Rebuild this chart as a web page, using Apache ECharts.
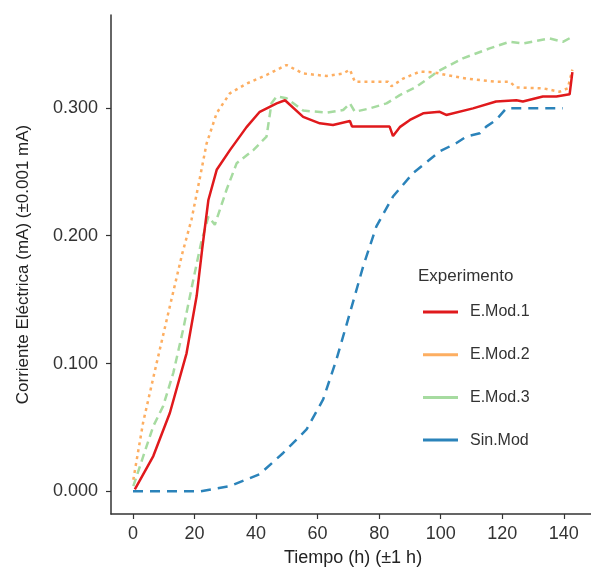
<!DOCTYPE html>
<html>
<head>
<meta charset="utf-8">
<script src="https://cdn.jsdelivr.net/npm/echarts@6/dist/echarts.min.js"></script>
<style>
html,body{margin:0;padding:0;background:#fff;}
#chart{width:591px;height:570px;}
</style>
</head>
<body>
<div id="chart"></div>
<script>
// ---- data ----
var seriesNames = ['E.Mod.1', 'E.Mod.2', 'E.Mod.3', 'Sin.Mod'];
var xTicks = [0, 20, 40, 60, 80, 100, 120, 140];
var yTicks = [0, 0.1, 0.2, 0.3];

var mod1Time  = [0.6, 6.6, 12, 17.4, 20.7, 22.5, 24.5, 27.2, 31.5, 36.9, 41.2, 46.7, 49.4, 55.3, 60.7, 65, 70.5, 71.2, 83.4, 84.5, 86.7, 90, 94.3, 99.7, 101.8, 110.5, 118, 124.6, 126.7, 133.2, 137.6, 141.9, 142.8];
var mod1Value = [0.0016, 0.0276, 0.0615, 0.108, 0.153, 0.19, 0.228, 0.2516, 0.267, 0.285, 0.297, 0.3036, 0.306, 0.293, 0.288, 0.2867, 0.2898, 0.2854, 0.2854, 0.278, 0.285, 0.2906, 0.2958, 0.297, 0.2945, 0.2997, 0.305, 0.306, 0.305, 0.309, 0.309, 0.3107, 0.328];

var mod2Time  = [0.1, 3.3, 7.7, 12, 16, 19, 21.8, 23.9, 27.2, 31.5, 36.9, 43.4, 47.7, 49.9, 55.3, 62.9, 68.3, 70.5, 72.1, 82.9, 84, 87.8, 93.2, 97.5, 101.8, 108.3, 118, 122.4, 124.6, 133.2, 138.6, 141.3, 142.8];
var mod2Value = [0.009, 0.054, 0.1005, 0.145, 0.186, 0.2125, 0.246, 0.272, 0.296, 0.3115, 0.319, 0.3258, 0.331, 0.3336, 0.327, 0.325, 0.327, 0.33, 0.3205, 0.3205, 0.317, 0.323, 0.3284, 0.328, 0.3258, 0.323, 0.3205, 0.3205, 0.316, 0.3154, 0.3127, 0.3154, 0.33];

var mod3Time  = [0.1, 2.3, 6.6, 9.8, 13.1, 16.3, 19.6, 22.1, 24.5, 26.6, 30.4, 33.7, 39.1, 43.4, 45, 46.7, 49.9, 55.3, 62.9, 68.3, 70.5, 72.1, 77, 82.4, 86.7, 92.1, 97.5, 98.6, 107.2, 115.9, 122.4, 126.7, 135.4, 139.7, 142.8];
var mod3Value = [0.004, 0.02, 0.051, 0.0667, 0.0927, 0.1266, 0.1656, 0.194, 0.215, 0.2086, 0.236, 0.2568, 0.267, 0.2776, 0.3036, 0.309, 0.3076, 0.298, 0.2963, 0.2984, 0.3036, 0.297, 0.2997, 0.3036, 0.31, 0.3166, 0.3258, 0.328, 0.3388, 0.3466, 0.3518, 0.3505, 0.3544, 0.3518, 0.3557];

var sinTime  = [0, 21.8, 31.5, 41.2, 48.8, 56.4, 61.8, 66.1, 70.5, 74.8, 79.1, 84.5, 91, 99.7, 105, 108.3, 112.7, 114.8, 118, 121.3, 139.7];
var sinValue = [0, 0, 0.004, 0.0135, 0.03, 0.0484, 0.0719, 0.103, 0.1396, 0.176, 0.2073, 0.2307, 0.249, 0.266, 0.2724, 0.2776, 0.2802, 0.2854, 0.2906, 0.2997, 0.2997];

// ---- build ----
function pairs(t, v) { return t.map(function (x, i) { return [x, v[i]]; }); }
var colors = ['#E0191C', '#FDAE61', '#A6DBA0', '#2B83BA'];
var dashes = ['solid', [3, 4], [8, 5], [10, 7]];
var dataSets = [pairs(mod1Time, mod1Value), pairs(mod2Time, mod2Value), pairs(mod3Time, mod3Value), pairs(sinTime, sinValue)];

var font = 'Liberation Sans, Arial, sans-serif';
var chart = echarts.init(document.getElementById('chart'), null, {renderer: 'canvas'});
var series = seriesNames.map(function (n, i) {
  return {
    name: n, type: 'line', data: dataSets[i], showSymbol: false, symbol: 'none',
    smooth: false, z: 10 - i,
    lineStyle: {color: colors[i], width: 2.5, type: dashes[i]},
    itemStyle: {color: colors[i]}
  };
});

chart.setOption({
  animation: false,
  backgroundColor: '#ffffff',
  title: {
    text: 'Experimento', left: 418, top: 268, padding: 0,
    textStyle: {fontFamily: font, fontSize: 17, fontWeight: 'normal', color: '#333'}
  },
  legend: {
    data: seriesNames.map(function (n, i) { return {name: n, icon: 'rect', itemStyle: {color: colors[i]}}; }),
    orient: 'vertical', left: 423, top: 304, padding: 0,
    itemWidth: 35, itemHeight: 3, itemGap: 26.7,
    textStyle: {fontFamily: font, fontSize: 16, color: '#333', padding: [0, 0, 0, 7]},
    selectedMode: false
  },
  grid: {left: 111, top: 15, right: -4, bottom: 56, containLabel: false, outerBoundsMode: 'none'},
  xAxis: {
    type: 'value', min: -7.15, max: 150.15,
    name: 'Tiempo (h) (±1 h)', nameLocation: 'middle', nameGap: 35,
    nameTextStyle: {fontFamily: font, fontSize: 18, color: '#222'},
    splitLine: {show: false},
    axisLine: {show: true, onZero: false, lineStyle: {color: '#333', width: 1.5}},
    axisTick: {show: true, customValues: xTicks, length: 5, lineStyle: {color: '#333', width: 1.2}},
    axisLabel: {customValues: xTicks, fontFamily: font, fontSize: 18, color: '#333', margin: 11}
  },
  yAxis: {
    type: 'value', min: -0.01775, max: 0.37275,
    name: 'Corriente Eléctrica (mA) (±0.001 mA)', nameLocation: 'middle', nameGap: 79,
    nameTextStyle: {fontFamily: font, fontSize: 17, color: '#222'},
    splitLine: {show: false},
    axisLine: {show: true, onZero: false, lineStyle: {color: '#333', width: 1.5}},
    axisTick: {show: true, customValues: yTicks, length: 5, lineStyle: {color: '#333', width: 1.2}},
    axisLabel: {customValues: yTicks, fontFamily: font, fontSize: 18, color: '#333', margin: 13,
      formatter: function (v) { return v.toFixed(3); }}
  },
  series: series
});
</script>
</body>
</html>
